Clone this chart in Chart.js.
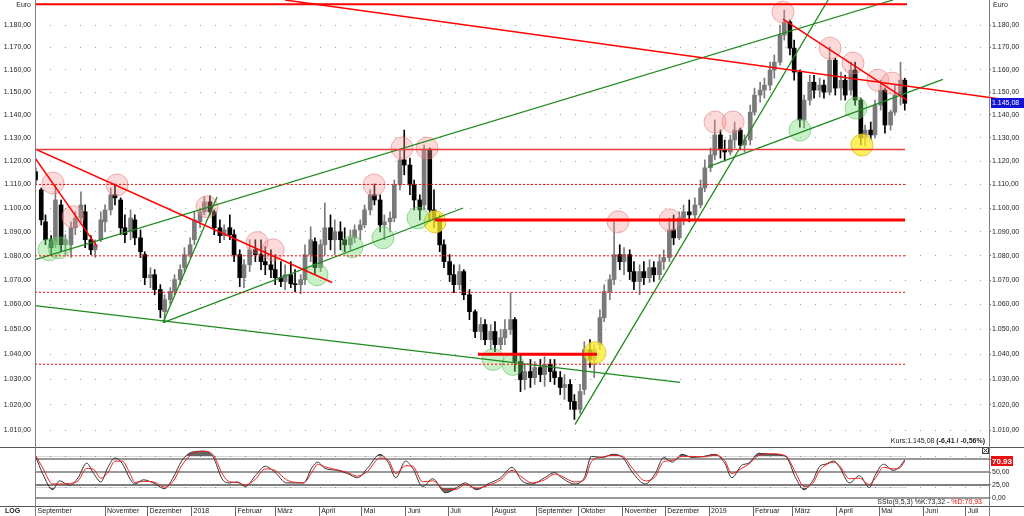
<!DOCTYPE html>
<html>
<head>
<meta charset="utf-8">
<script src="https://cdn.jsdelivr.net/npm/chart.js@4.4.1/dist/chart.umd.min.js"></script>
<style>
  html, body { margin: 0; padding: 0; background: #fff; }
  #wrap { position: relative; width: 1024px; height: 516px; overflow: hidden; }
  #main { position: absolute; left: 0; top: 0; }
  #stoch { position: absolute; left: 0; top: 447px; }
</style>
</head>
<body>
<div id="wrap">
  <canvas id="main" width="1024" height="447" style="width:1024px;height:447px"></canvas>
  <canvas id="stoch" width="1024" height="69" style="width:1024px;height:69px"></canvas>
</div>
<script>
// days counted from 2017-09-01, prices in Euro
const days = [12,16,19,23,26,30,33,37,40,44,47,51,54,58,61,65,68,72,75,79,82,86,89,93,96,100,103,107,110,114,117,121,124,128,131,135,138,142,145,149,152,156,159,163,
  167,171,174,178,181,185,188,192,195,199,202,206,209,213,216,220,223,227,230,234,237,241,244,248,251,255,258,262,265,269,272,276,279,283,286,290,293,297,300,304,307,311,314,318,
  322,326,329,333,336,340,343,347,350,354,357,361,364,368,371,375,378,382,385,389,392,396,399,403,406,410,413,417,420,424,427,431,434,438,441,445,448,452,455,459,462,466,469,473,
  477,481,484,488,491,495,498,502,505,509,512,516,519,523,526,530,533,537,540,544,547,551,554,558,561,565,568,572,
  576,580,583,587,590,594,597,601,604,608,611,615,618,622,625];

const open = [1115.4,1107.7,1094.2,1086.7,1084.6,1101.3,1084.6,1084.6,1091.7,1095.8,
  1098.4,1086.7,1082.5,1086.7,1094.2,1099.2,1105.6,1103.4,1091.7,1090.0,
  1095.0,1087.5,1080.5,1071.0,1072.2,1066.1,1057.1,1062.0,1065.3,1070.2,
  1075.1,1080.5,1086.7,1094.2,1098.4,1102.6,1098.4,1091.7,1088.4,1091.7,
  1088.8,1080.5,1071.0,1076.3,1082.5,1080.5,1077.6,1076.3,1074.3,1071.0,
  1069.4,1072.2,1068.5,1068.1,1070.2,1080.5,1085.9,1075.1,1084.6,1091.7,
  1086.7,1090.0,1086.7,1084.6,1087.5,1090.8,1092.9,1099.2,1105.6,1103.4,
  1092.9,1094.2,1095.8,1109.8,1120.5,1118.3,1109.8,1103.4,1101.3,1124.8,
  1099.2,1095.0,1084.6,1077.6,1072.2,1068.1,1073.5,1064.0,1057.1,1049.1,
  1051.9,1045.8,1049.1,1043.8,1046.6,1049.9,1053.9,1037.1,1029.9,1033.1,
  1030.7,1034.7,1031.9,1035.9,1033.1,1030.7,1026.8,1028.0,1021.3,1018.2,
  1026.0,1041.8,1037.9,1043.8,1054.7,1065.3,1070.2,1080.5,1077.6,1080.5,
  1073.5,1069.4,1073.5,1071.0,1075.1,1072.2,1077.6,1079.3,1090.8,1087.5,
  1095.8,1098.4,1097.1,1101.3,1108.5,1117.1,1122.6,1131.3,1124.8,1123.9,
  1129.1,1133.4,1126.9,1129.1,1141.2,1148.7,1150.9,1153.1,1159.8,1163.3,
  1175.5,1181.4,1169.6,1158.9,1137.8,1146.5,1154.4,1150.9,1153.1,1150.0,
  1164.2,1151.8,1155.3,1150.9,1159.8,1146.5,1130.0,1133.4,1131.3,1144.3,
  1150.9,1135.6,1141.2,1148.7,1155.3];

const high = [1117.1,1108.5,1097.1,1088.4,1109.8,1103.4,1088.8,1094.2,1098.4,1106.9,
  1101.3,1088.4,1086.7,1098.4,1101.3,1108.5,1110.2,1104.3,1097.1,1099.2,
  1097.1,1090.8,1081.7,1075.1,1074.3,1068.1,1064.0,1066.9,1072.2,1076.3,
  1083.4,1087.5,1098.4,1100.0,1104.7,1105.2,1099.2,1095.0,1092.9,1097.1,
  1090.8,1082.5,1078.4,1086.7,1086.7,1086.7,1083.8,1082.5,1080.5,1077.6,
  1076.3,1077.6,1074.3,1072.2,1084.6,1092.1,1087.5,1086.7,1102.1,1097.1,
  1095.0,1094.2,1091.7,1090.8,1092.9,1095.0,1101.3,1107.7,1110.2,1105.6,
  1097.1,1098.4,1111.9,1124.8,1133.4,1121.3,1111.9,1105.6,1126.9,1125.6,
  1107.7,1097.1,1086.7,1080.5,1076.3,1076.3,1074.3,1066.1,1057.9,1054.7,
  1053.9,1051.9,1053.1,1049.9,1053.9,1064.8,1054.7,1039.8,1035.9,1037.9,
  1037.1,1037.9,1039.0,1037.9,1037.9,1033.1,1031.9,1029.9,1024.0,1028.0,
  1045.0,1045.8,1043.8,1057.9,1068.1,1072.2,1094.2,1084.6,1083.4,1082.5,
  1077.6,1076.3,1077.6,1078.4,1077.6,1080.5,1082.5,1095.8,1097.1,1098.4,
  1101.3,1103.4,1104.3,1111.9,1120.5,1125.6,1137.8,1133.4,1129.1,1131.3,
  1136.9,1134.3,1131.3,1144.3,1151.8,1154.4,1156.2,1163.3,1166.5,1180.0,
  1186.8,1182.3,1173.2,1159.8,1148.7,1157.5,1157.5,1156.2,1155.3,1170.1,
  1165.1,1158.9,1157.5,1163.3,1163.3,1147.4,1135.6,1136.9,1146.5,1155.3,
  1151.8,1142.1,1153.1,1163.3,1156.2];

const low = [1109.8,1092.9,1084.6,1080.5,1083.4,1081.7,1080.5,1079.3,1088.8,1094.2,
  1083.4,1080.5,1079.3,1085.9,1090.0,1097.1,1101.3,1088.8,1085.5,1086.7,
  1084.6,1079.3,1068.1,1066.9,1064.0,1054.7,1052.7,1060.0,1064.0,1068.1,
  1073.5,1079.3,1084.6,1091.7,1097.1,1097.1,1088.8,1085.5,1086.7,1086.7,
  1077.6,1067.3,1066.9,1073.5,1077.6,1074.3,1072.2,1071.0,1068.1,1067.3,
  1066.1,1066.9,1065.3,1064.4,1068.1,1077.6,1072.2,1073.5,1080.5,1082.5,
  1080.5,1082.5,1081.7,1082.5,1085.5,1086.7,1091.7,1097.1,1101.3,1090.0,
  1086.7,1090.0,1094.2,1107.7,1114.1,1105.6,1099.2,1095.0,1099.2,1094.2,
  1091.7,1081.7,1075.1,1069.4,1064.8,1066.1,1062.0,1053.9,1046.6,1045.8,
  1043.8,1041.8,1041.0,1041.8,1043.8,1047.9,1033.1,1025.2,1026.0,1026.8,
  1028.0,1029.1,1027.2,1029.1,1028.0,1024.0,1022.1,1018.2,1014.3,1016.6,
  1024.0,1034.7,1030.7,1041.8,1053.1,1062.0,1068.1,1074.3,1072.2,1070.2,
  1066.1,1064.0,1068.1,1069.0,1069.4,1070.2,1074.3,1077.6,1084.6,1086.7,
  1092.9,1094.2,1095.0,1100.0,1106.9,1115.4,1120.5,1121.3,1120.5,1122.6,
  1125.6,1124.8,1123.9,1126.9,1139.9,1145.6,1147.4,1150.9,1156.2,1162.0,
  1173.2,1166.5,1155.3,1134.7,1134.3,1144.3,1147.4,1147.8,1147.4,1148.7,
  1148.7,1146.5,1146.5,1148.7,1144.3,1126.9,1126.5,1129.1,1130.0,1142.1,
  1132.1,1133.4,1139.9,1144.3,1142.1];

const close = [1111.9,1095.0,1086.7,1083.4,1103.4,1084.6,1086.7,1091.7,1095.8,1101.3,
  1086.7,1082.5,1084.6,1095.0,1099.2,1105.6,1104.3,1091.7,1088.8,1095.8,
  1087.5,1081.7,1071.0,1072.2,1066.1,1057.9,1062.0,1065.3,1070.2,1074.3,
  1080.5,1084.6,1095.0,1098.4,1102.6,1098.4,1091.7,1088.4,1090.8,1088.8,
  1080.5,1071.0,1076.3,1082.5,1080.5,1077.6,1076.3,1074.3,1071.0,1069.4,
  1072.2,1068.5,1068.1,1070.2,1080.5,1086.7,1075.1,1084.6,1091.7,1086.7,
  1090.0,1086.7,1084.6,1087.5,1090.8,1092.9,1099.2,1105.6,1103.4,1092.9,
  1094.2,1095.8,1109.8,1120.5,1118.3,1109.8,1103.4,1099.2,1124.8,1099.2,
  1095.0,1084.6,1077.6,1072.2,1068.1,1073.5,1064.0,1057.1,1049.1,1051.9,
  1045.8,1049.1,1043.8,1046.6,1049.9,1053.9,1037.1,1029.9,1033.1,1030.7,
  1034.7,1031.9,1035.9,1033.1,1030.7,1026.8,1028.0,1021.3,1018.2,1025.2,
  1041.8,1037.9,1041.8,1054.7,1065.3,1070.2,1080.5,1077.6,1080.5,1073.5,
  1069.4,1073.5,1071.0,1075.1,1072.2,1077.6,1079.3,1090.8,1087.5,1095.8,
  1098.4,1097.1,1101.3,1108.5,1117.1,1122.6,1131.3,1124.8,1123.9,1129.1,
  1133.4,1126.9,1129.1,1141.2,1148.7,1150.9,1153.1,1159.8,1163.3,1175.5,
  1181.4,1169.6,1158.9,1137.8,1146.5,1154.4,1150.9,1153.1,1150.0,1164.2,
  1151.8,1155.3,1148.7,1159.8,1146.5,1130.0,1133.4,1131.3,1144.3,1150.9,
  1135.6,1141.2,1148.7,1155.3,1145.08];

const priceTicks = [1010,1020,1030,1040,1050,1060,1070,1080,1090,1100,1110,1120,1130,1140,1150,1160,1170,1180];

// drawn lines: [fromDay, fromPrice, toDay, toPrice]
const redTrend = [[187.9,1191.4,709.1,1145.6],[11.6,1121.3,55.4,1083.8],[11.6,1125.2,221.1,1069.0],[539.1,1182.7,626.6,1146.5]];
const greenTrend = [[11.6,1078.4,616.7,1191.4],[101.9,1052.7,313.5,1100.0],[101.9,1052.7,140.0,1104.7],
  [11.6,1059.6,466.5,1028.8],[392.4,1012.3,570.9,1191.4],[486.2,1117.5,651.9,1155.7]];
// horizontal levels: [fromDay, toDay, price]
const solidLevels = [[11.6,626.6,1189.5],[11.6,625.2,1125.0]];
const thickLevels = [[293.7,625.2,1095.0],[324.0,408.0,1040.0]];
const dashedLevels = [[11.6,625.2,1110.0],[11.6,625.2,1080.0],[11.6,625.2,1065.0],[11.6,625.2,1036.0]];

// highlighted spots: [day, price]
const pinkMarks = [[24.3,1110.6],[38.4,1096.3],[69.5,1109.8],[132.9,1100.5],[168.2,1085.5],[179.5,1082.5],
  [250.7,1109.8],[270.4,1125.6],[288.1,1125.6],[422.8,1094.2],[459.4,1095.0],[491.2,1136.9],[503.9,1136.9],
  [539.1,1185.9],[572.3,1169.6],[588.5,1162.9],[606.1,1155.3],[616.0,1154.0]];
const greenMarks = [[21.5,1082.5],[28.6,1083.4],[210.5,1072.2],[235.2,1083.8],[257.0,1087.5],[281.7,1095.8],
  [334.6,1037.9],[348.7,1035.9],[551.1,1133.4],[590.6,1143.0]];
const yellowMarks = [[293.7,1094.2],[406.5,1040.6],[594.8,1126.9]];

// slow stochastic (9,5,3)
const stochDays = [12,17,24,29,36,42,48,53,58,63,68,73,79,82,88,95,103,109,115,122,
  130,137,144,149,154,160,167,174,181,189,195,201,207,211,216,225,232,239,246,255,
  261,266,273,278,285,292,301,308,315,323,331,340,348,355,362,371,378,383,392,399,
  404,412,419,426,433,442,449,455,461,468,475,483,491,498,503,510,515,522,531,541,
  548,554,560,565,569,575,579,586,593,600,604,610,617,621,625];
const stochK = [80,47,16,33,24,39,67,47,31,59,77,67,35,27,35,29,18,39,71,88,
  90,80,35,29,31,22,43,61,49,29,29,29,59,69,57,53,47,39,57,84,
  67,39,71,57,22,37,10,18,29,16,27,39,59,33,27,39,49,39,27,39,
  80,78,84,78,49,27,47,78,69,84,78,80,84,67,39,63,67,86,84,80,
  39,16,33,61,65,71,59,29,43,20,43,65,53,59,73.32];
const stochD = [82,58,27,27,28,33,57,55,38,49,71,71,45,30,32,31,21,32,62,84,
  90,84,45,31,30,25,36,56,53,35,30,29,50,65,60,54,49,42,51,77,
  72,47,62,61,31,33,16,16,26,19,24,35,53,40,29,35,46,42,31,35,
  70,79,82,80,57,33,41,70,72,80,80,79,83,72,47,57,65,82,85,81,
  49,22,28,53,63,69,62,37,38,26,37,59,56,57,70.93];
const stochLevels = [75, 50, 25, 0];
const stochTicks = [0, 25, 50, 75];

const monthDays = [12,61,91,122,153,181,212,242,273,303,334,365,395,426,456,487,518,546,577,607,638,668];
const monthLabels = ['September','November','Dezember','2018','Februar','März','April','Mai','Juni','Juli','August',
  'September','Oktober','November','Dezember','2019','Februar','März','April','Mai','Juni','Juli'];

const kursText = 'Kurs:1.145,08 ';
const kursChange = '(-6,41 / -0,56%)';

const xMin = 11.6, xMax = 684.4;
const FONT = '"Liberation Sans", Arial, sans-serif';
Chart.defaults.font.family = FONT;
Chart.defaults.font.size = 7;
Chart.defaults.color = '#222';

function fmt(v) {
  const parts = Number(v).toFixed(2).split('.');
  return parts[0].replace(/\B(?=(\d{3})+(?!\d))/g, '.') + ',' + parts[1];
}

function candleColor(i) {
  return close[i] >= open[i] ? '#7a7a7a' : '#000';
}

function segment(x1, y1, x2, y2, color, width, dash) {
  return {
    type: 'line',
    data: [{x: x1, y: y1}, {x: x2, y: y2}],
    borderColor: color,
    borderWidth: width,
    borderDash: dash || [],
    pointRadius: 0,
    fill: false,
    order: 1,
    clip: {left: 0, top: 0, right: false, bottom: 0}
  };
}

function markers(list, fill, edge) {
  return {
    type: 'scatter',
    data: list.map(m => ({x: m[0], y: m[1]})),
    backgroundColor: fill,
    borderColor: edge,
    borderWidth: 1,
    pointRadius: 11,
    order: 2
  };
}

const lineSets = [];
solidLevels.forEach((l, i) => lineSets.push(segment(l[0], l[2], l[1], l[2], i === 0 ? '#f00' : '#f03a3a', i === 0 ? 2 : 1.5)));
thickLevels.forEach(l => lineSets.push(segment(l[0], l[2], l[1], l[2], '#f00', 3)));
dashedLevels.forEach(l => lineSets.push(segment(l[0], l[2], l[1], l[2], '#f00', 1, [2, 2])));
redTrend.forEach(l => lineSets.push(segment(l[0], l[1], l[2], l[3], '#f00', 1.5)));
greenTrend.forEach(l => lineSets.push(segment(l[0], l[1], l[2], l[3], '#1e8a1e', 1.3)));

const mainDecor = {
  id: 'mainDecor',
  afterDraw(chart) {
    const {ctx, chartArea: a, scales} = chart;
    ctx.save();
    ctx.strokeStyle = '#808080';
    ctx.lineWidth = 1;
    ctx.beginPath();
    ctx.moveTo(a.left + 0.5, 0); ctx.lineTo(a.left + 0.5, chart.height);
    ctx.moveTo(a.right + 0.5, 0); ctx.lineTo(a.right + 0.5, chart.height);
    ctx.stroke();

    ctx.font = '7px ' + FONT;
    ctx.fillStyle = '#222';
    ctx.textBaseline = 'middle';
    ctx.textAlign = 'right';
    ctx.fillText('Euro', a.left - 4, 5);
    ctx.textAlign = 'left';
    ctx.fillText('Euro', a.right + 4, 5);

    const last = close[close.length - 1];
    const y = Math.round(scales.yr.getPixelForValue(last));
    ctx.fillStyle = '#1414d6';
    ctx.fillRect(a.right + 2, y - 5, 33, 10);
    ctx.fillStyle = '#fff';
    ctx.fillText(fmt(last), a.right + 3, y + 0.5);

    ctx.textAlign = 'right';
    ctx.font = 'bold 7px ' + FONT;
    const bw = ctx.measureText(kursChange).width;
    ctx.fillStyle = '#222';
    ctx.fillText(kursChange, a.right - 4, 441);
    ctx.font = '7px ' + FONT;
    ctx.fillText(kursText, a.right - 4 - bw, 441);
    ctx.restore();
  }
};

new Chart(document.getElementById('main'), {
  type: 'bar',
  data: {
    datasets: [
      ...lineSets,
      markers(pinkMarks, 'rgba(245,150,150,0.35)', 'rgba(225,110,110,0.5)'),
      markers(greenMarks, 'rgba(120,220,120,0.4)', 'rgba(80,180,80,0.5)'),
      markers(yellowMarks, 'rgba(255,236,40,0.75)', 'rgba(225,185,40,0.8)'),
      {
        type: 'bar',
        data: days.map((d, i) => ({x: d, y: [low[i], high[i]]})),
        backgroundColor: c => candleColor(c.dataIndex),
        barThickness: 1,
        grouped: false,
        order: 4
      },
      {
        type: 'bar',
        data: days.map((d, i) => ({x: d, y: [open[i], close[i]]})),
        backgroundColor: c => candleColor(c.dataIndex),
        barThickness: 4,
        minBarLength: 1,
        grouped: false,
        order: 3
      }
    ]
  },
  options: {
    responsive: false,
    animation: false,
    events: [],
    layout: {autoPadding: false, padding: {top: 0, bottom: 1, left: 0, right: 0}},
    plugins: {legend: {display: false}, tooltip: {enabled: false}},
    scales: {
      x: {type: 'linear', min: xMin, max: xMax, display: false, offset: false},
      y: {
        type: 'logarithmic', position: 'left', min: 1004.0, max: 1191.4,
        afterBuildTicks: s => { s.ticks = priceTicks.map(v => ({value: v})); },
        afterFit: s => { s.width = 35; s.paddingTop = 0; s.paddingBottom = 0; },
        ticks: {callback: v => fmt(v), padding: 4, autoSkip: false, color: '#222'},
        grid: {color: '#9c9c9c', drawTicks: false, lineWidth: 1},
        border: {display: false, dash: [1, 14]}
      },
      yr: {
        type: 'logarithmic', position: 'right', min: 1004.0, max: 1191.4,
        afterBuildTicks: s => { s.ticks = priceTicks.map(v => ({value: v})); },
        afterFit: s => { s.width = 35; s.paddingTop = 0; s.paddingBottom = 0; },
        ticks: {callback: v => fmt(v), padding: 1, autoSkip: false, color: '#222'},
        grid: {drawOnChartArea: false, tickLength: 2, color: '#777'},
        border: {display: false}
      }
    }
  },
  plugins: [mainDecor]
});

const stochDecor = {
  id: 'stochDecor',
  beforeDatasetsDraw(chart) {
    const {ctx, chartArea: a, scales} = chart;
    ctx.save();
    stochLevels.forEach(v => {
      const y = Math.round(scales.y.getPixelForValue(v));
      ctx.strokeStyle = v === 25 ? '#555' : '#999';
      ctx.lineWidth = v === 25 ? 1.5 : 2;
      ctx.beginPath();
      ctx.moveTo(a.left, y); ctx.lineTo(a.right, y);
      ctx.stroke();
    });
    ctx.restore();
  },
  afterDraw(chart) {
    const {ctx, chartArea: a, scales} = chart;
    ctx.save();
    ctx.strokeStyle = '#555';
    ctx.lineWidth = 1;
    ctx.beginPath();
    ctx.moveTo(0, a.top + 0.5); ctx.lineTo(chart.width, a.top + 0.5);
    ctx.moveTo(0, a.bottom + 0.5); ctx.lineTo(chart.width, a.bottom + 0.5);
    ctx.stroke();
    ctx.strokeStyle = '#808080';
    ctx.beginPath();
    ctx.moveTo(a.left + 0.5, 0); ctx.lineTo(a.left + 0.5, chart.height);
    ctx.moveTo(a.right + 0.5, 0); ctx.lineTo(a.right + 0.5, chart.height);
    ctx.stroke();

    // close box
    ctx.strokeStyle = '#444';
    ctx.fillStyle = '#eee';
    ctx.fillRect(a.right - 6.5, a.top + 0.5, 6, 6);
    ctx.strokeRect(a.right - 6.5, a.top + 0.5, 6, 6);
    ctx.beginPath();
    ctx.moveTo(a.right - 5.5, a.top + 1.5); ctx.lineTo(a.right - 1.5, a.top + 5.5);
    ctx.moveTo(a.right - 1.5, a.top + 1.5); ctx.lineTo(a.right - 5.5, a.top + 5.5);
    ctx.stroke();

    const lastD = stochD[stochD.length - 1];
    const lastK = stochK[stochK.length - 1];
    const y = Math.round(scales.yr.getPixelForValue(lastD));
    ctx.fillStyle = '#e81010';
    ctx.fillRect(a.right + 2, y - 5, 22, 10);
    ctx.fillStyle = '#fff';
    ctx.font = 'bold 8px ' + FONT;
    ctx.textBaseline = 'middle';
    ctx.textAlign = 'left';
    ctx.fillText(lastD.toFixed(2), a.right + 3, y + 0.5);

    ctx.font = '7px ' + FONT;
    ctx.textAlign = 'right';
    const dTxt = '%D:' + fmt(lastD);
    const dw = ctx.measureText(dTxt).width;
    ctx.fillStyle = '#e81010';
    ctx.fillText(dTxt, a.right - 7, a.bottom - 4);
    ctx.fillStyle = '#222';
    ctx.fillText('SSto(9,5,3) %K:' + fmt(lastK) + ' - ', a.right - 7 - dw, a.bottom - 4);

    ctx.font = 'bold 7px ' + FONT;
    ctx.textAlign = 'left';
    ctx.fillText('LOG', 5, a.bottom + 5);
    ctx.restore();
  }
};

const kPts = stochDays.map((d, i) => ({x: d, y: stochK[i]}));
const dPts = stochDays.map((d, i) => ({x: d, y: stochD[i]}));

new Chart(document.getElementById('stoch'), {
  type: 'line',
  data: {
    datasets: [
      {data: kPts, borderColor: '#333', borderWidth: 1, pointRadius: 0, cubicInterpolationMode: 'monotone',
        fill: {target: {value: 80}, above: 'rgba(75,75,75,0.85)', below: 'rgba(0,0,0,0)'}, order: 2},
      {data: kPts, borderColor: 'rgba(0,0,0,0)', borderWidth: 0, pointRadius: 0, cubicInterpolationMode: 'monotone',
        fill: {target: {value: 20}, above: 'rgba(0,0,0,0)', below: 'rgba(75,75,75,0.85)'}, order: 3},
      {data: dPts, borderColor: '#ea2020', borderWidth: 1, pointRadius: 0, cubicInterpolationMode: 'monotone',
        fill: false, order: 1}
    ]
  },
  options: {
    responsive: false,
    animation: false,
    events: [],
    layout: {autoPadding: false, padding: 0},
    plugins: {legend: {display: false}, tooltip: {enabled: false}},
    scales: {
      x: {
        type: 'linear', position: 'bottom', min: xMin, max: xMax, offset: false,
        afterBuildTicks: s => { s.ticks = monthDays.map(v => ({value: v})); },
        afterFit: s => { s.height = 10; s.paddingLeft = 0; s.paddingRight = 0; },
        ticks: {callback: (v, i) => monthLabels[i], align: 'start', labelOffset: 2, padding: -9,
          autoSkip: false, maxRotation: 0, color: '#222'},
        grid: {drawOnChartArea: false, tickLength: 10, color: '#666'},
        border: {display: false}
      },
      y: {
        type: 'linear', position: 'left', min: -15.4, max: 98.1,
        afterBuildTicks: s => { s.ticks = [20, 80].map(v => ({value: v})); },
        afterFit: s => { s.width = 35; s.paddingTop = 0; s.paddingBottom = 0; },
        ticks: {display: false},
        grid: {color: '#9c9c9c', drawTicks: false},
        border: {display: false, dash: [1, 14]}
      },
      yr: {
        type: 'linear', position: 'right', min: -15.4, max: 98.1,
        afterBuildTicks: s => { s.ticks = stochTicks.map(v => ({value: v})); },
        afterFit: s => { s.width = 35; s.paddingTop = 0; s.paddingBottom = 0; },
        ticks: {callback: v => fmt(v), padding: 1, color: '#222'},
        grid: {drawOnChartArea: false, tickLength: 2, color: '#777'},
        border: {display: false}
      }
    }
  },
  plugins: [stochDecor]
});
</script>
</body>
</html>
